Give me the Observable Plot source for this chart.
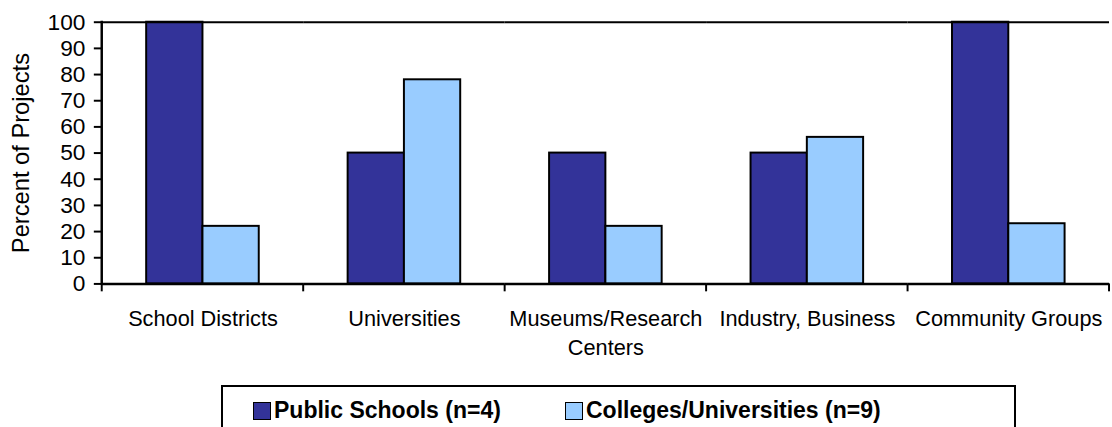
<!DOCTYPE html>
<html>
<head>
<meta charset="utf-8">
<script src="https://cdn.jsdelivr.net/npm/d3@7"></script>
<script src="https://cdn.jsdelivr.net/npm/@observablehq/plot@0.6"></script>
<style>
  html, body { margin: 0; padding: 0; background: white; overflow: hidden; }
  #wrap { position: relative; width: 1112px; height: 427px; overflow: hidden; font-family: "Liberation Sans", Arial, sans-serif; }
  #chart svg { display: block; }
  #legend { position: absolute; left: 221px; top: 385px; width: 791px; height: 70px; border: 2px solid black; box-sizing: content-box; background: white; }
  .item { position: absolute; top: 10px; display: flex; align-items: center; font-weight: bold; font-size: 23px; color: black; white-space: nowrap; }
  .sw { width: 16px; height: 16px; border: 1.5px solid black; margin-right: 3px; }
</style>
</head>
<body>
<div id="wrap">
  <div id="chart"></div>
  <div id="legend"></div>
</div>
<script>
const categories = ["School Districts", "Universities", "Museums/Research Centers", "Industry, Business", "Community Groups"];
const categoryLabels = ["School Districts", "Universities", "Museums/Research\nCenters", "Industry, Business", "Community Groups"];
const seriesNames = ["Public Schools (n=4)", "Colleges/Universities (n=9)"];
const publicSchools = [100, 50, 50, 50, 100];
const colleges = [22, 78, 22, 56, 23];
const yTicks = [0, 10, 20, 30, 40, 50, 60, 70, 80, 90, 100];
const colors = ["#333399", "#99CCFF"];

const data = categories.flatMap((c, i) => [
  {cat: c, series: seriesNames[0], value: publicSchools[i]},
  {cat: c, series: seriesNames[1], value: colleges[i]}
]);

const plot = Plot.plot({
  width: 1126, height: 370,
  marginLeft: 103, marginRight: 3, marginTop: 22, marginBottom: 83,
  style: {fontFamily: "'Liberation Sans', Arial, sans-serif", fontSize: "22px", background: "white", color: "black", overflow: "visible"},
  fx: {domain: categories, padding: 0, label: null},
  x: {domain: seriesNames, paddingInner: 0, paddingOuter: 0.76, axis: null},
  y: {domain: [0, 100], label: null},
  color: {domain: seriesNames, range: colors},
  marks: [
    Plot.axisFx({anchor: "bottom", tickSize: 0, tickPadding: 21, label: null, lineHeight: 1.36, fontSize: 22,
      tickFormat: d => categoryLabels[categories.indexOf(d)]}),
    Plot.axisY({ticks: yTicks, tickSize: 8, tickPadding: 9, fontSize: 23, strokeWidth: 2, tickFormat: d => String(d)}),
    Plot.axisY({ticks: [], tickSize: 0, fontSize: 24,
      label: "Percent of Projects", labelAnchor: "center", labelOffset: 91, labelArrow: "none"}),
    Plot.barY(data, {fx: "cat", x: "series", y: "value", fill: "series", stroke: "black", strokeWidth: 2}),
    Plot.ruleY([0], {stroke: "black", strokeWidth: 2.5}),
    Plot.ruleY([100], {stroke: "black", strokeWidth: 2})
  ]
});

document.getElementById("chart").appendChild(plot);

// boundary ticks and left axis line from the library's scales
const fx = plot.scale("fx");
const ys = plot.scale("y");
const svg = d3.select(plot);
const edges = categories.map(c => fx.apply(c)).concat([fx.apply(categories[categories.length - 1]) + fx.bandwidth]);
const y0 = ys.apply(0), y100 = ys.apply(100);
svg.append("g").attr("stroke", "black").attr("stroke-width", 2)
  .selectAll("line").data(edges).join("line")
  .attr("x1", d => d).attr("x2", d => d).attr("y1", y0).attr("y2", y0 + 8);
svg.append("line").attr("stroke", "black").attr("stroke-width", 2.5)
  .attr("x1", edges[0]).attr("x2", edges[0]).attr("y1", y100 - 1).attr("y2", y0 + 1);

// legend
const legend = d3.select("#legend");
const lefts = [30, 342];
seriesNames.forEach((s, i) => {
  const it = legend.append("div").attr("class", "item").style("left", lefts[i] + "px");
  it.append("div").attr("class", "sw").style("background", colors[i]);
  it.append("span").text(s);
});
</script>
</body>
</html>
